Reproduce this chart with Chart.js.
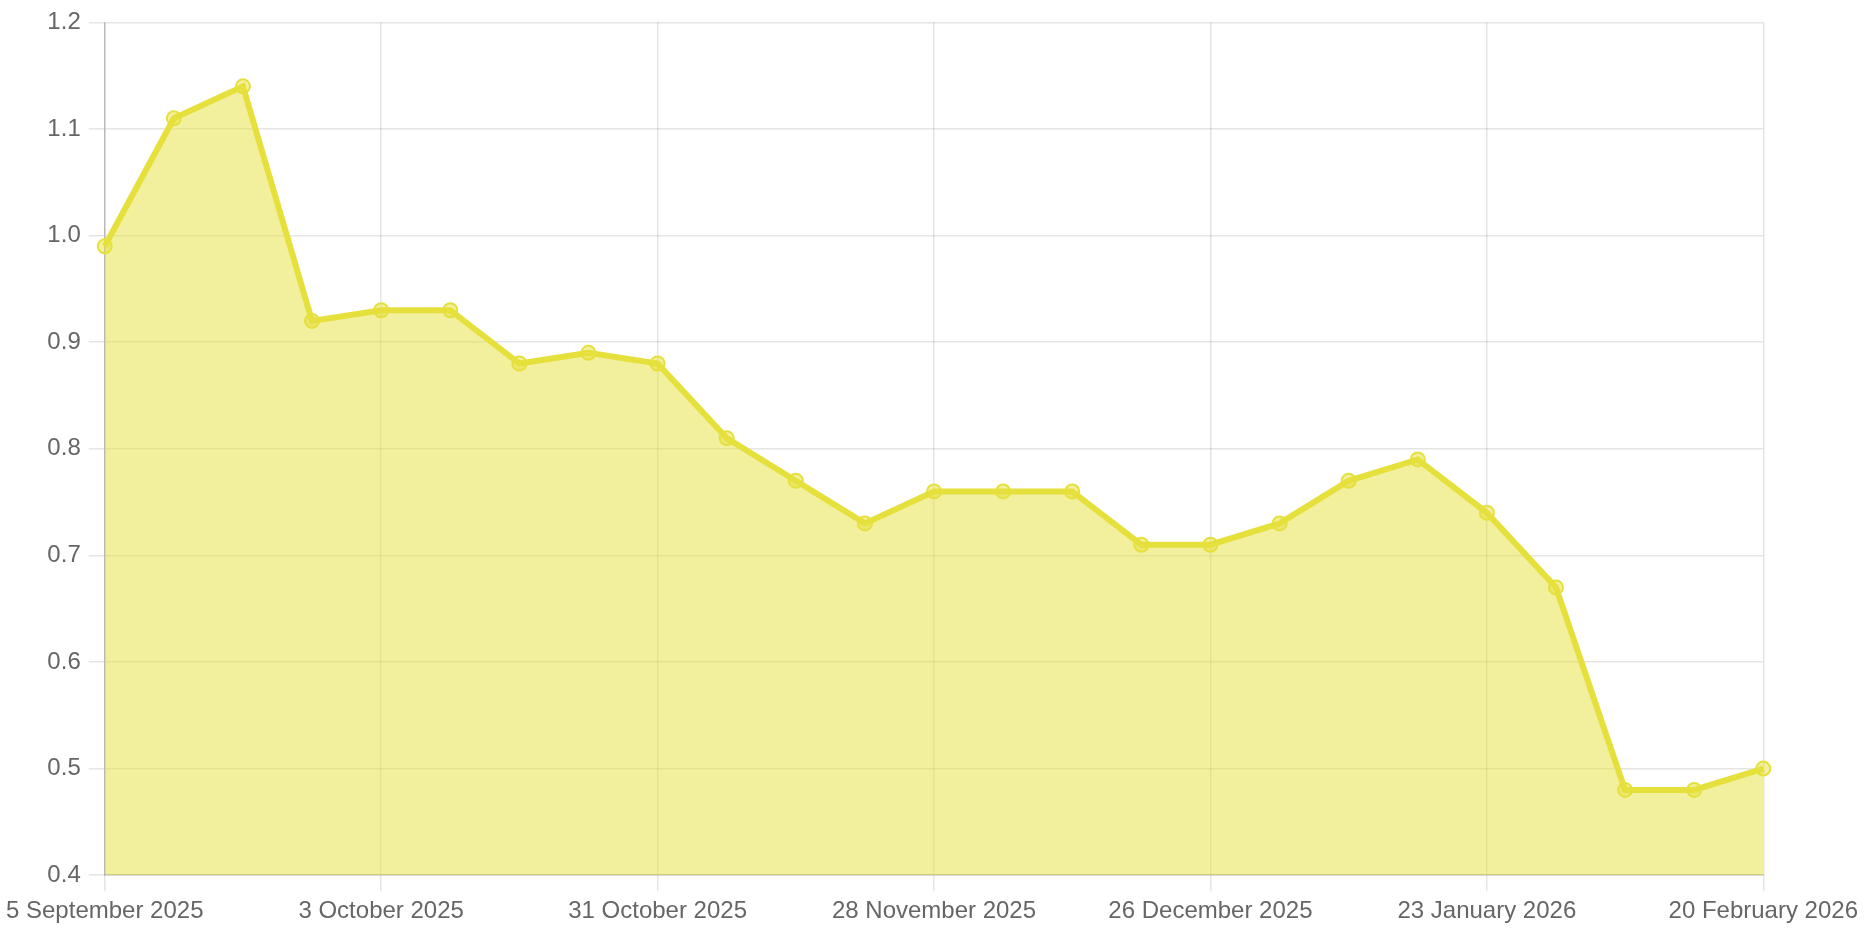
<!DOCTYPE html>
<html>
<head>
<meta charset="utf-8">
<script src="https://cdn.jsdelivr.net/npm/chart.js@4"></script>
<style>
html,body{margin:0;padding:0;background:#fff;}
#wrap{width:1864px;height:932px;}
</style>
</head>
<body>
<div id="wrap"><canvas id="c"></canvas></div>
<script>
const categories = [
  "5 September 2025","12 September 2025","19 September 2025","26 September 2025",
  "3 October 2025","10 October 2025","17 October 2025","24 October 2025",
  "31 October 2025","7 November 2025","14 November 2025","21 November 2025",
  "28 November 2025","5 December 2025","12 December 2025","19 December 2025",
  "26 December 2025","2 January 2026","9 January 2026","16 January 2026",
  "23 January 2026","30 January 2026","6 February 2026","13 February 2026",
  "20 February 2026"
];
const values = [0.99,1.11,1.14,0.92,0.93,0.93,0.88,0.89,0.88,0.81,0.77,0.73,0.76,0.76,0.76,0.71,0.71,0.73,0.77,0.79,0.74,0.67,0.48,0.48,0.50];
const yTicks = [0.4,0.5,0.6,0.7,0.8,0.9,1.0,1.1,1.2];
const labelEvery = 4;

const lineColor = 'rgb(230,224,60)';
const fillColor = 'rgba(230,224,60,0.5)';

new Chart(document.getElementById('c'), {
  type: 'line',
  data: {
    labels: categories,
    datasets: [{
      data: values,
      borderColor: lineColor,
      backgroundColor: fillColor,
      fill: 'start',
      borderWidth: 6,
      pointRadius: 7,
      pointBorderWidth: 2,
      pointBackgroundColor: fillColor,
      pointBorderColor: lineColor,
      tension: 0
    }]
  },
  options: {
    responsive: true,
    maintainAspectRatio: false,
    animation: false,
    layout: { padding: { top: 6, left: 0, right: 0, bottom: 0 } },
    plugins: { legend: { display: false }, tooltip: { enabled: false } },
    scales: {
      x: {
        grid: { color: 'rgba(0,0,0,0.1)', lineWidth: 1.5, tickLength: 16 },
        border: { color: 'rgba(0,0,0,0.2)', width: 1.5 },
        ticks: {
          autoSkip: false, maxRotation: 0, minRotation: 0,
          color: '#666', padding: 6,
          font: { family: 'Liberation Sans, Arial, Helvetica, sans-serif', size: 24 },
          callback: function(v, i) { return i % labelEvery === 0 ? categories[i] : null; }
        }
      },
      y: {
        min: yTicks[0], max: yTicks[yTicks.length-1],
        afterBuildTicks: function(axis) { axis.ticks = yTicks.map(v => ({value: v})); },
        grid: { color: 'rgba(0,0,0,0.1)', lineWidth: 1.5, tickLength: 16 },
        border: { color: 'rgba(0,0,0,0.2)', width: 1.5 },
        ticks: {
          color: '#666', padding: 8,
          font: { family: 'Liberation Sans, Arial, Helvetica, sans-serif', size: 24 },
          callback: function(v) { return Number(v).toFixed(1); }
        }
      }
    }
  }
});
</script>
</body>
</html>
